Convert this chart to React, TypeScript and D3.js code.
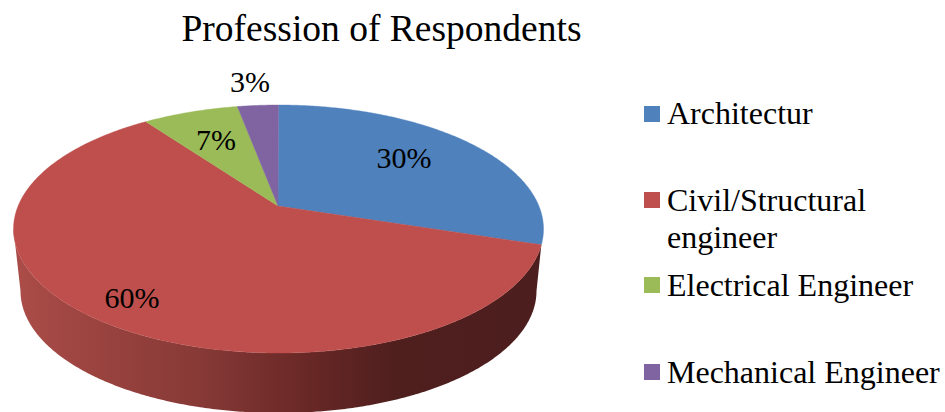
import React from "react";
import * as d3 from "d3";

const categories = ["Architectur", "Civil/Structural engineer", "Electrical Engineer", "Mechanical Engineer"];
const values = [30, 60, 7, 3];
const colors = ["#4f81bd", "#be4f4c", "#9bbb59", "#8064a2"];
const legendLines = [["Architectur"], ["Civil/Structural", "engineer"], ["Electrical Engineer"], ["Mechanical Engineer"]];
const wallStops: [number, string][] = [
  [0, "#aa4c48"], [0.15, "#9a433f"], [0.35, "#863936"], [0.55, "#692826"], [0.72, "#4f1f1e"], [1, "#4c1e1d"],
];

const W = 945, H = 412;
const FONT = "'Liberation Serif', 'Times New Roman', serif";
const top = { cx: 278.5, cy: 229, rx: 265, ry: 124 };
const bottom = { cx: 278.5, cy: 291, rx: 258, ry: 122 };
const apex: [number, number] = [278, 206];
const k = 0.826; // perspective foreshortening of the tilted disc
const labelPos: [number, number][] = [[404, 168], [132, 308], [216, 150], [250, 92]];
const legendSwatchY = [106, 192, 277, 364];
const legendBaseY = [124, 210.5, 296, 383];
const legendLineH = 37;

const param = (a: number) => 2 * Math.atan(k * Math.tan(a / 2));
const onEllipse = (e: typeof top, t: number): [number, number] => [e.cx + e.rx * Math.sin(t), e.cy - e.ry * Math.cos(t)];
const samples = (a0: number, a1: number) => [...d3.range(a0, a1, 0.01), a1];
const line = d3.line<[number, number]>().curve(d3.curveLinear);

export default function App() {
  const pie = d3.pie<number>().sort(null)(values);
  const total = d3.sum(values);
  const fmt = d3.format(".0%");

  const red = pie[1];
  const rimTs = samples(param(red.startAngle), Math.PI * 1.5);
  const bottomTs = samples(Math.PI / 2, Math.PI * 1.5).reverse();
  const wallPts = [
    ...rimTs.map((t) => onEllipse(top, t)),
    ...bottomTs.map((t) => onEllipse(bottom, t)),
  ];

  return (
    <svg width={W} height={H} viewBox={`0 0 ${W} ${H}`} style={{ position: "fixed", left: 0, top: 0, background: "#fff" }} fontFamily={FONT}>
      <defs>
        <linearGradient id="wall" gradientUnits="userSpaceOnUse" x1={20} x2={540} y1={0} y2={0}>
          {wallStops.map(([o, c]) => <stop key={o} offset={o} stopColor={c} />)}
        </linearGradient>
      </defs>
      <text x={381.5} y={41} textAnchor="middle" fontSize={37.5} fill="#000">Profession of Respondents</text>
      <path d={line(wallPts) + "Z"} fill="url(#wall)" />
      {pie.map((s, i) => {
        const pts = samples(s.startAngle, s.endAngle).map((a) => onEllipse(top, param(a)));
        return <path key={categories[i]} d={line([apex, ...pts]) + "Z"} fill={colors[i]} stroke={colors[i]} strokeWidth={0.4} />;
      })}
      {values.map((v, i) => (
        <text key={i} x={labelPos[i][0]} y={labelPos[i][1]} textAnchor="middle" fontSize={30} fill="#000">{fmt(v / total)}</text>
      ))}
      {categories.map((c, i) => (
        <g key={c}>
          <rect x={644} y={legendSwatchY[i]} width={16} height={16} fill={colors[i]} />
          {legendLines[i].map((l, j) => (
            <text key={l} x={667} y={legendBaseY[i] + j * legendLineH} fontSize={32} fill="#000">{l}</text>
          ))}
        </g>
      ))}
    </svg>
  );
}
